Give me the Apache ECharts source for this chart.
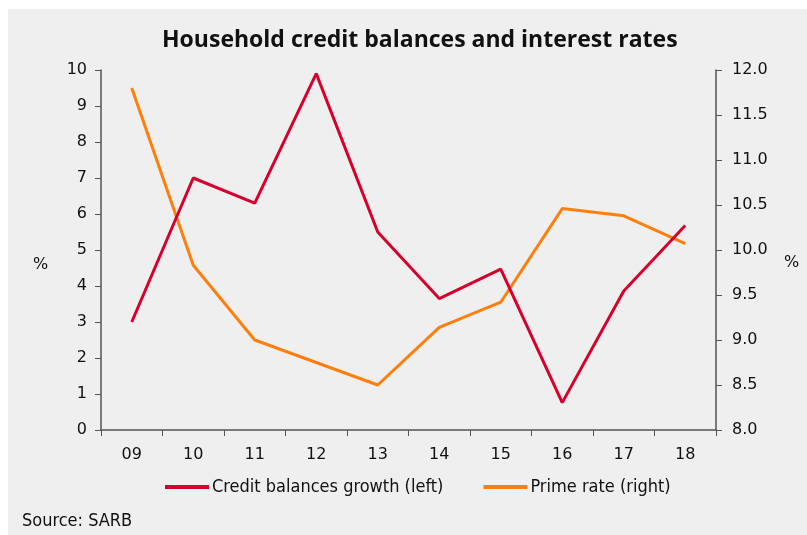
<!DOCTYPE html>
<html><head><meta charset="utf-8">
<script src="https://cdn.jsdelivr.net/npm/echarts@6/dist/echarts.min.js"></script>
<style>html,body{margin:0;padding:0;background:#fff}#c{width:807px;height:535px}</style>
</head><body><div id="c"></div>
<script>
var categories = ['09','10','11','12','13','14','15','16','17','18'];
var creditGrowth = [3.0, 7.0, 6.3, 9.9, 5.5, 3.65, 4.47, 0.76, 3.86, 5.68];
var primeRate = [11.8, 9.83, 9.0, 8.75, 8.5, 9.14, 9.42, 10.46, 10.38, 10.07];
var leftTicks = {min: 0, max: 10, interval: 1};
var rightTicks = {min: 8, max: 12, interval: 0.5};

var NUMFONT = 'DejaVu Sans';
var NARROW = '"DejaVu Sans Condensed", Lato, sans-serif';
var chart = echarts.init(document.getElementById('c'));
chart.setOption({
  animation: false,
  backgroundColor: '#fff',
  graphic: [
    {type:'rect', shape:{x:8,y:9,width:799,height:526}, style:{fill:'#efefef'}, z:-10},
    {type:'text', left: 22, top: 512, style:{text:'Source: SARB', font:'18px ' + NARROW, fill:'#111'}},
    {type:'text', left: 33, top: 257, style:{text:'%', font:'16px "' + NUMFONT + '"', fill:'#111'}},
    {type:'text', left: 784, top: 255, style:{text:'%', font:'16px "' + NUMFONT + '"', fill:'#111'}}
  ],
  title: {
    text: 'Household credit balances and interest rates',
    left: 162, top: 29, padding: 0,
    textStyle: {fontFamily: 'Open Sans', fontWeight: 'bold', fontSize: 23, color: '#111'}
  },
  legend: {
    left: 165, top: 478, padding: 0, itemWidth: 44, itemHeight: 4, itemGap: 40,
    icon: 'rect',
    textStyle: {fontFamily: NARROW, fontSize: 18, color: '#111', padding:[0,0,0,-2]},
    data: ['Credit balances growth (left)', 'Prime rate (right)']
  },
  grid: {left: 101, right: 91, top: 70, bottom: 105},
  xAxis: {
    type: 'category', data: categories, boundaryGap: true,
    axisLine: {lineStyle: {color: '#555', width: 1.5}},
    axisTick: {show: true, alignWithLabel: false, length: 6, lineStyle:{color:'#555'}},
    axisLabel: {fontFamily: NUMFONT, fontSize: 16, color: '#111', margin: 17}
  },
  yAxis: [
    {type:'value', position:'left', min:leftTicks.min, max:leftTicks.max, interval:leftTicks.interval,
     axisLine:{show:true, lineStyle:{color:'#555', width:1.5}},
     axisTick:{show:true, length:6, lineStyle:{color:'#555'}},
     splitLine:{show:false},
     axisLabel:{fontFamily:NUMFONT, fontSize:16, color:'#111', margin:14}},
    {type:'value', position:'right', min:rightTicks.min, max:rightTicks.max, interval:rightTicks.interval,
     axisLine:{show:true, lineStyle:{color:'#555', width:1.5}},
     axisTick:{show:true, length:6, lineStyle:{color:'#555'}},
     splitLine:{show:false},
     axisLabel:{fontFamily:NUMFONT, fontSize:16, color:'#111', margin:16,
       formatter:function(v){return v.toFixed(1);}}}
  ],
  series: [
    {name:'Credit balances growth (left)', type:'line', yAxisIndex:0, data:creditGrowth,
     symbol:'none', lineStyle:{color:'#d6002f', width:3}, itemStyle:{color:'#d6002f'}, z:3},
    {name:'Prime rate (right)', type:'line', yAxisIndex:1, data:primeRate,
     symbol:'none', lineStyle:{color:'#ff7f0e', width:3}, itemStyle:{color:'#ff7f0e'}, z:2}
  ]
});
</script></body></html>
